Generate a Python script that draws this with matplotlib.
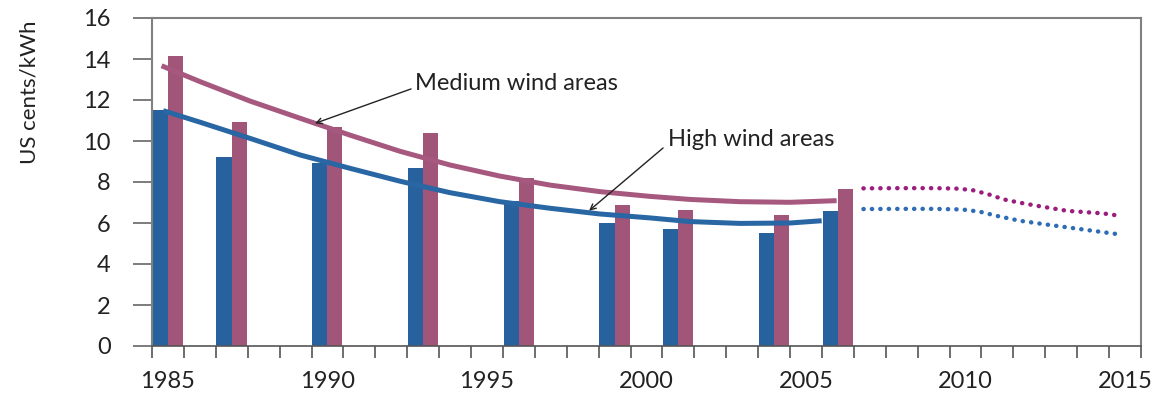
import matplotlib
matplotlib.use("Agg")
import matplotlib.pyplot as plt
import numpy as np

# ---- data ----
bar_years = [1985, 1987, 1990, 1993, 1996, 1999, 2001, 2004, 2006]
high_wind = [11.51, 9.22, 8.95, 8.68, 7.05, 6.00, 5.71, 5.51, 6.59]
medium_wind = [14.15, 10.93, 10.68, 10.39, 8.18, 6.88, 6.63, 6.39, 7.66]

trend_years_medium = [1984.80, 1986.0, 1987.57, 1989.14, 1990.7, 1992.27, 1993.84,
                      1995.4, 1996.97, 1998.54, 2000.1, 2001.36, 2002.93, 2004.5, 2005.96]
trend_medium = [13.67, 12.90, 11.95, 11.11, 10.29, 9.50, 8.83,
                8.29, 7.85, 7.53, 7.30, 7.15, 7.04, 7.01, 7.09]

trend_years_high = [1984.85, 1986.0, 1987.57, 1989.14, 1990.7, 1992.27, 1993.84,
                    1995.4, 1996.97, 1998.54, 2000.1, 2001.36, 2002.93, 2004.5, 2005.49]
trend_high = [11.48, 10.92, 10.13, 9.32, 8.67, 8.04, 7.48,
              7.04, 6.72, 6.44, 6.25, 6.07, 5.98, 6.00, 6.11]

proj_years_medium = [2006.8, 2008.0, 2009.0, 2009.7, 2010.2, 2010.7, 2011.2,
                     2011.7, 2012.2, 2013.2, 2014.3, 2014.8]
proj_medium = [7.69, 7.70, 7.70, 7.68, 7.61, 7.41, 7.15, 6.99, 6.85, 6.59, 6.47, 6.36]

proj_years_high = [2006.8, 2008.0, 2009.0, 2009.9, 2010.45, 2011.0, 2011.7,
                   2012.7, 2013.8, 2014.8]
proj_high = [6.68, 6.69, 6.69, 6.66, 6.55, 6.34, 6.11, 5.89, 5.66, 5.45]

year_labels = [1985, 1990, 1995, 2000, 2005, 2010, 2015]
y_ticks = [0, 2, 4, 6, 8, 10, 12, 14, 16]

# ---- style ----
BLUE = "#27629F"
PINK = "#A15579"
BLUE_LINE = "#2866A4"
PINK_LINE = "#A6587F"
BLUE_DOT = "#2E6DB4"
PINK_DOT = "#9B1D7D"
FONT = "Lato"
plt.rcParams["font.family"] = [FONT, "DejaVu Sans"]

fig = plt.figure(figsize=(11.61, 3.93), dpi=100)
ax = fig.add_axes([152 / 1161, 1 - 346 / 393, (1141 - 152) / 1161, (346 - 18) / 393])

ax.bar(bar_years, high_wind, width=-0.48, align="edge", color=BLUE, zorder=2)
ax.bar(bar_years, medium_wind, width=0.47, align="edge", color=PINK, zorder=2)

ax.plot(trend_years_medium, trend_medium, color=PINK_LINE, lw=3.6,
        solid_capstyle="butt", solid_joinstyle="round", zorder=3)
ax.plot(trend_years_high, trend_high, color=BLUE_LINE, lw=3.6,
        solid_capstyle="butt", solid_joinstyle="round", zorder=3)

ax.plot(proj_years_medium, proj_medium, color=PINK_DOT, lw=3.2,
        linestyle=(0, (0.05, 1.85)), dash_capstyle="round", zorder=3)
ax.plot(proj_years_high, proj_high, color=BLUE_DOT, lw=3.2,
        linestyle=(0, (0.05, 1.85)), dash_capstyle="round", zorder=3)

ax.annotate("", xy=(1989.61, 10.86), xytext=(1992.62, 12.54),
            arrowprops=dict(arrowstyle="->", color="#222222", lw=1.0,
                            shrinkA=0, shrinkB=0), zorder=4)
ax.annotate("", xy=(1998.2, 6.6), xytext=(2000.52, 9.66),
            arrowprops=dict(arrowstyle="->", color="#222222", lw=1.0,
                            shrinkA=0, shrinkB=0), zorder=4)
ax.text(1992.74, 12.49, "Medium wind areas", fontsize=17, color="#222222",
        ha="left", va="baseline")
ax.text(2000.67, 9.76, "High wind areas", fontsize=17, color="#222222",
        ha="left", va="baseline")

ax.set_xlim(1984.5, 2015.5)
ax.set_ylim(0, 16)
ax.set_yticks(y_ticks)
ax.set_xticks(year_labels)
ax.set_xticks(np.arange(1984.5, 2016.0, 1.0), minor=True)
ax.tick_params(axis="x", which="major", length=0, pad=18, labelsize=17,
               labelcolor="#222222")
ax.tick_params(axis="x", which="minor", length=8.6, width=1.2, color="#555555")
ax.tick_params(axis="y", which="major", length=13.7, width=1.2, color="#666666",
               pad=16, labelsize=17, labelcolor="#222222")

for side in ["left", "top", "right"]:
    ax.spines[side].set_color("#808080")
    ax.spines[side].set_linewidth(1.5)
ax.spines["bottom"].set_color("#555555")
ax.spines["bottom"].set_linewidth(1.2)

fig.text(30 / 1161, 1 - 92 / 393, "US cents/kWh", rotation=90, fontsize=16,
         color="#222222", ha="center", va="center")

fig.savefig("out.png", dpi=100)
